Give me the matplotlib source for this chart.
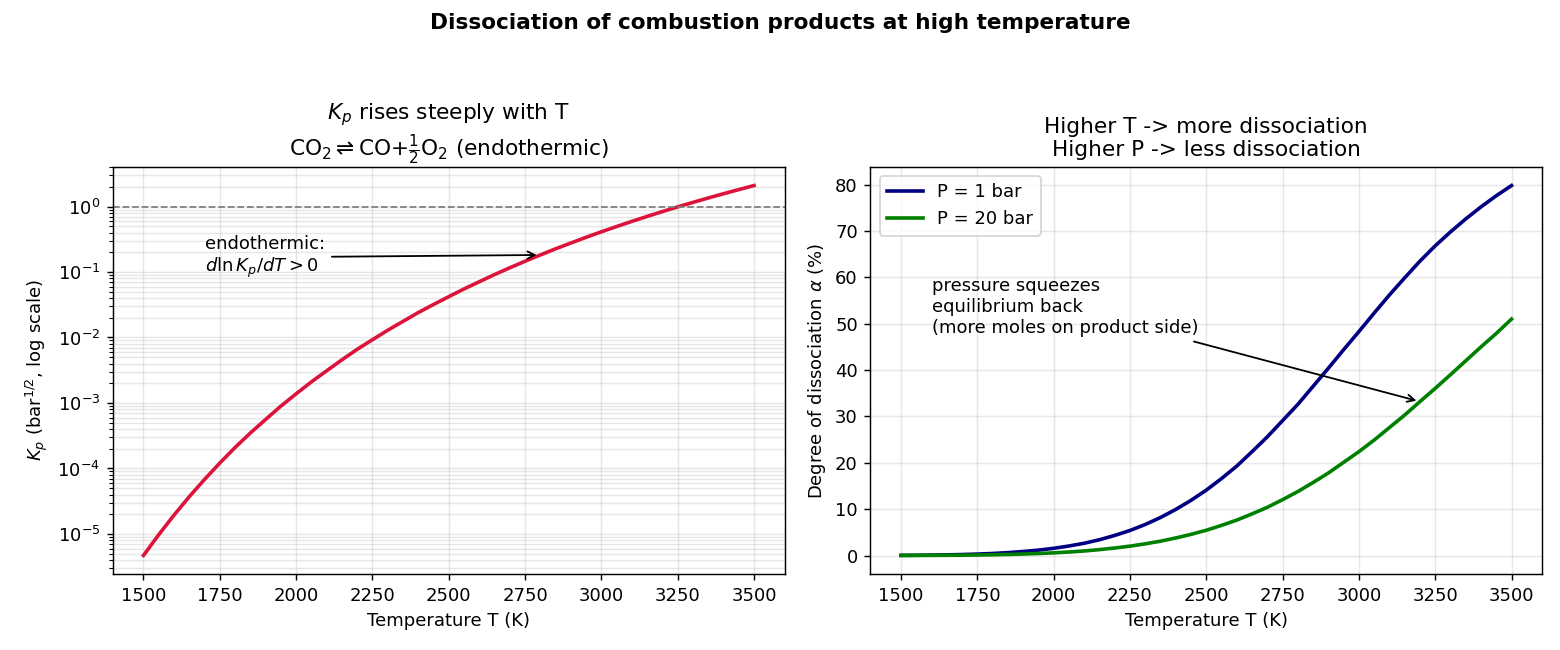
import matplotlib
matplotlib.use('Agg')
import matplotlib.pyplot as plt

# temperatures (K) and values, every 50 K
temps = [1500, 1550, 1600, 1650, 1700, 1750, 1800, 1850, 1900, 1950, 2000,
         2050, 2100, 2150, 2200, 2250, 2300, 2350, 2400, 2450, 2500,
         2550, 2600, 2650, 2700, 2750, 2800, 2850, 2900, 2950, 3000,
         3050, 3100, 3150, 3200, 3250, 3300, 3350, 3400, 3450, 3500]
kp = [4.7e-6, 9.75e-6, 1.94e-5, 3.71e-5, 6.8e-5, 1.21e-4, 2.09e-4, 3.48e-4, 5.6e-4, 8.95e-4, 1.38e-3,
      2.10e-3, 3.1e-3, 4.56e-3, 6.6e-3, 9.25e-3, 0.0129, 0.0176, 0.024, 0.0319, 0.042,
      0.0551, 0.071, 0.0914, 0.116, 0.146, 0.182, 0.226, 0.277, 0.339, 0.411,
      0.495, 0.593, 0.706, 0.837, 0.986, 1.156, 1.349, 1.567, 1.81, 2.09]
alpha_1bar = [0.035, 0.058, 0.09, 0.14, 0.21, 0.31, 0.44, 0.62, 0.87, 1.16, 1.55,
              2.05, 2.64, 3.4, 4.33, 5.4, 6.69, 8.2, 9.94, 11.9, 14.1,
              16.6, 19.3, 22.4, 25.6, 29.1, 32.6, 36.5, 40.4, 44.4, 48.3,
              52.3, 56.2, 59.9, 63.5, 66.8, 69.8, 72.6, 75.2, 77.6, 79.8]
alpha_20bar = [0.013, 0.021, 0.034, 0.052, 0.077, 0.11, 0.16, 0.23, 0.32, 0.43, 0.57,
               0.76, 0.98, 1.27, 1.62, 2.02, 2.52, 3.09, 3.79, 4.56, 5.45,
               6.5, 7.64, 8.98, 10.4, 12.05, 13.8, 15.75, 17.8, 20.1, 22.4,
               24.9, 27.6, 30.3, 33.2, 36.05, 39.0, 42.0, 45.0, 47.9, 51.0]
pressures = ["P = 1 bar", "P = 20 bar"]

plt.rcParams['font.size'] = 10

fig, (ax1, ax2) = plt.subplots(1, 2, figsize=(12, 5), dpi=130)
fig.subplots_adjust(left=0.0724, right=0.9885, bottom=0.117, top=0.743, wspace=0.128)
fig.suptitle("Dissociation of combustion products at high temperature", fontsize=12, fontweight='bold')

# left: equilibrium constant
ax1.semilogy(temps, kp, color='crimson', lw=2)
ax1.axhline(1.0, color='gray', ls='--', lw=1)
i_kp = temps.index(2800)
ax1.annotate("endothermic:\n$d\\ln K_p/dT > 0$", xy=(temps[i_kp], kp[i_kp]), xytext=(1700, 0.1),
             arrowprops=dict(arrowstyle='->', color='black', lw=1))
ax1.set_xlabel("Temperature T (K)")
ax1.set_ylabel("$K_p$ (bar$^{1/2}$, log scale)")
ax1.set_title("$K_p$ rises steeply with T\n"
              "CO$_2\\rightleftharpoons$CO+$\\frac{1}{2}$O$_2$ (endothermic)",
              fontsize=12)
ax1.grid(True, which='both', alpha=0.3)

# right: degree of dissociation
ax2.plot(temps, alpha_1bar, color='navy', lw=2, label=pressures[0])
ax2.plot(temps, alpha_20bar, color='green', lw=2, label=pressures[1])
i_a = temps.index(3200)
ax2.annotate("pressure squeezes\nequilibrium back\n(more moles on product side)",
             xy=(temps[i_a], alpha_20bar[i_a]), xytext=(1600, 48),
             arrowprops=dict(arrowstyle='->', color='black', lw=1))
ax2.set_xlabel("Temperature T (K)")
ax2.set_ylabel("Degree of dissociation $\\alpha$ (%)")
ax2.set_title("Higher T -> more dissociation\nHigher P -> less dissociation", fontsize=12)
ax2.legend(loc='upper left')
ax2.grid(True, alpha=0.3)

fig.savefig("out.png", facecolor='white')
